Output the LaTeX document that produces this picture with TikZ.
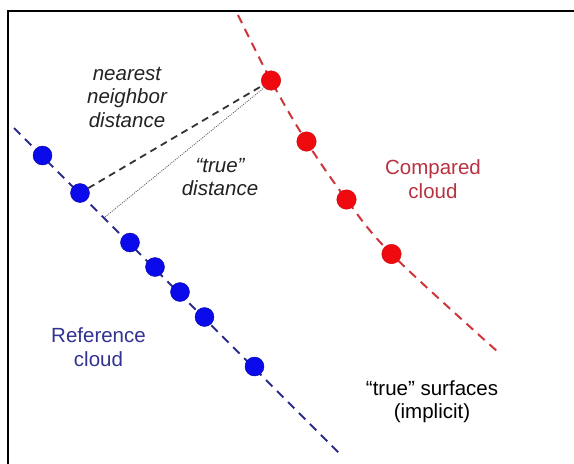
\documentclass[tikz,border=0pt]{standalone}
\usepackage{fontspec}
\setmainfont{Liberation Sans}
\definecolor{dotblue}{RGB}{10,10,235}
\definecolor{lineblue}{RGB}{45,45,140}
\definecolor{dotred}{RGB}{238,10,15}
\definecolor{linered}{RGB}{205,55,60}
\definecolor{txtred}{RGB}{185,50,65}
\definecolor{txtblue}{RGB}{50,50,145}
\definecolor{txtdark}{RGB}{35,35,35}
\begin{document}
\begin{tikzpicture}[x=1pt,y=-1pt,
  bdot/.style={circle,fill=dotblue,draw=dotblue!70!black,line width=0.4pt,minimum size=19pt,inner sep=0pt},
  rdot/.style={circle,fill=dotred,draw=dotred!85!black,line width=0.4pt,minimum size=19.5pt,inner sep=0pt},
  bline/.style={draw=lineblue,line width=2pt,dash pattern=on 9pt off 6.5pt},
  rline/.style={draw=linered,line width=2pt,dash pattern=on 9pt off 6.5pt},
  nnline/.style={draw=black!80,line width=1.8pt,dash pattern=on 7pt off 5pt},
  trueline/.style={draw=black!60,line width=0.9pt,dash pattern=on 1pt off 1.2pt},
  lbl/.style={inner sep=0pt,align=center,font=\fontsize{20.5}{23.5}\selectfont}]
\useasboundingbox (0,0) rectangle (574,464);
\fill[white] (0,0) rectangle (574,464);
% frame
\draw[line width=2pt] (8,470) -- (8,11) -- (580,11);
% coordinates
\coordinate (bs) at (14,128);
\coordinate (b1) at (42.5,155.5);
\coordinate (b2) at (80,193);
\coordinate (b3) at (130,242.5);
\coordinate (b4) at (155,267);
\coordinate (b5) at (180,292);
\coordinate (b6) at (204.5,317);
\coordinate (b7) at (254.5,366.5);
\coordinate (be) at (342,456);
\coordinate (rs) at (238,15);
\coordinate (r1) at (271,80.5);
\coordinate (r2) at (306.5,141.5);
\coordinate (r3) at (346.5,199.5);
\coordinate (r4) at (391.5,254);
\coordinate (re) at (498,352);
\coordinate (tf) at (105,217);
\coordinate (tt) at (265,87);
% surfaces
\draw[bline] (bs) -- (be);
\draw[rline] plot[smooth,tension=0.6] coordinates {(rs) (r1) (r2) (r3) (r4) (re)};
% dots
\foreach \n in {1,...,7} \node[bdot] (B\n) at (b\n) {};
\foreach \n in {1,...,4} \node[rdot] (R\n) at (r\n) {};
% distances
\draw[nnline] (B2) -- (R1);
\draw[trueline] (tf) -- (tt);
% labels
\node[lbl,text=txtdark,font=\fontsize{20.5}{23.5}\selectfont\itshape] (nn) at (127,97) {nearest\\neighbor\\distance};
\node[lbl,text=txtdark,font=\fontsize{20.5}{23.5}\selectfont\itshape] (td) at (220,177) {\textquotedblleft true\textquotedblright\\distance};
\node[lbl,text=txtred] (cc) at (433,179) {Compared\\cloud};
\node[lbl,text=txtblue] (rc) at (98.5,347) {Reference\\cloud};
\node[lbl,text=black] (ts) at (432,401.5) {\textquotedblleft true\textquotedblright\ surfaces\\(implicit)};
\end{tikzpicture}
\end{document}
